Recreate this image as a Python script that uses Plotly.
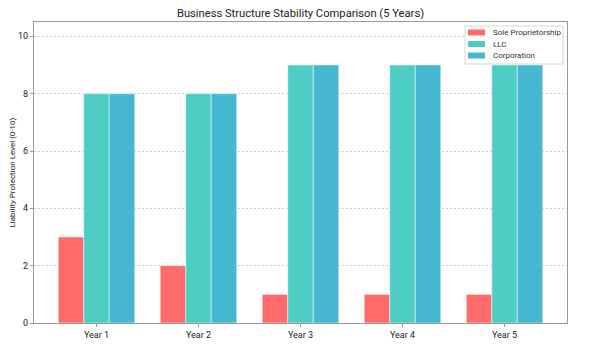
import plotly.graph_objects as go

years = ["Year 1", "Year 2", "Year 3", "Year 4", "Year 5"]
sole_prop = [3, 2, 1, 1, 1]
llc = [8, 8, 9, 9, 9]
corporation = [8, 8, 9, 9, 9]

series_names = ["Sole Proprietorship", "LLC", "Corporation"]
series_colors = ["#FF6B6B", "#4ECDC4", "#45B7D1"]
y_ticks = [0, 2, 4, 6, 8, 10]

FONT = "Roboto, 'Open Sans', sans-serif"
W, H = 592, 355
ML, MR, MT, MB = 34, 25, 22, 32
PW, PH = W - ML - MR, H - MT - MB


def px_x(px):
    return (px - ML) / PW


def px_y(py):
    return (H - MB - py) / PH


fig = go.Figure()
for name, vals, col in zip(series_names, [sole_prop, llc, corporation], series_colors):
    fig.add_trace(go.Bar(
        x=list(range(len(years))), y=vals, name=name,
        marker=dict(color=col, line=dict(color="rgba(255,255,255,0.8)", width=0.6)),
        showlegend=False, hoverinfo="skip",
    ))

# custom compact legend (matplotlib style)
shapes = [dict(type="rect", xref="paper", yref="paper",
               x0=px_x(465), x1=px_x(563), y0=px_y(64), y1=px_y(26),
               fillcolor="rgba(255,255,255,0.85)", line=dict(color="#d6d6d6", width=1),
               layer="above")]
annotations = []
row_y = [32.5, 44, 55.5]
for name, col, ry in zip(series_names, series_colors, row_y):
    shapes.append(dict(type="rect", xref="paper", yref="paper",
                       x0=px_x(468), x1=px_x(485), y0=px_y(ry + 3), y1=px_y(ry - 3),
                       fillcolor=col, line=dict(width=0), layer="above"))
    annotations.append(dict(text=name, xref="paper", yref="paper",
                            x=px_x(491), y=px_y(ry), xanchor="left", yanchor="middle",
                            showarrow=False, font=dict(size=8, color="#333", family=FONT)))

annotations.append(dict(text="Liability Protection Level (0-10)", xref="paper", yref="paper",
                        x=px_x(12), y=0.5, textangle=-90, xanchor="center", yanchor="middle",
                        showarrow=False, font=dict(size=8, color="#222", family=FONT)))

fig.update_layout(
    width=W, height=H,
    margin=dict(l=ML, r=MR, t=MT, b=MB, autoexpand=False),
    paper_bgcolor="white", plot_bgcolor="white",
    barmode="group", bargap=0.25, bargroupgap=0,
    font=dict(family=FONT, size=9, color="#222"),
    title=dict(text="Business Structure Stability Comparison (5 Years)",
               x=0.5, xref="paper", xanchor="center", y=1 - 13 / H, yanchor="middle",
               automargin=False,
               font=dict(size=11.2, color="#222", family=FONT)),
    showlegend=False,
    shapes=shapes,
    annotations=annotations,
)
fig.update_xaxes(
    range=[-0.6125, 4.6125], tickmode="array",
    tickvals=list(range(len(years))), ticktext=years,
    showline=True, linecolor="#999", linewidth=1.2, mirror=True,
    ticks="outside", ticklen=3, tickcolor="#999",
    showgrid=False, zeroline=False, tickfont=dict(size=9), automargin=False,
)
fig.update_yaxes(
    range=[0, 10.5], tickvals=y_ticks,
    showline=True, linecolor="#999", linewidth=1.2, mirror=True,
    ticks="outside", ticklen=3, tickcolor="#999",
    showgrid=True, gridcolor="#cfcfcf", griddash="2px,2px", gridwidth=0.7,
    zeroline=False, tickfont=dict(size=9), automargin=False,
)

fig.write_html("out.html",
               config={"displayModeBar": False},
               post_script="document.body.style.margin='0';document.body.style.overflow='hidden';")
